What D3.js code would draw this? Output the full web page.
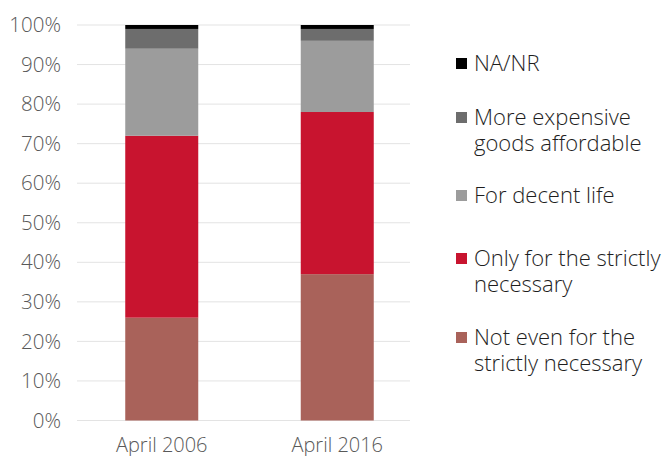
<!DOCTYPE html>
<html>
<head>
  <script src="https://d3js.org/d3.v7.min.js"></script>
  <style>
    body { margin: 0; background: #fff; }
    svg text { font-family: "Open Sans", Roboto, "Liberation Sans", sans-serif; font-weight: 300; }
  </style>
</head>
<body>
  <svg id="chart" width="668" height="456"></svg>
  <script>
    const categories = ['April 2006', 'April 2016'];
    // bottom to top
    const seriesNames = ['Not even for the strictly necessary', 'Only for the strictly necessary',
      'For decent life', 'More expensive goods affordable', 'NA/NR'];
    const notEven = [26, 37];
    const onlyNecessary = [46, 41];
    const decentLife = [22, 18];
    const moreExpensive = [5, 3];
    const naNr = [1, 1];
    const yTicks = [0, 10, 20, 30, 40, 50, 60, 70, 80, 90, 100];

    const colors = ['#a9625a', '#c8142f', '#9c9c9c', '#6d6d6d', '#000000'];
    const legendLines = [
      ['NA/NR'],
      ['More expensive', 'goods affordable'],
      ['For decent life'],
      ['Only for the strictly', 'necessary'],
      ['Not even for the', 'strictly necessary']
    ];

    const rows = categories.map((c, i) => ({
      cat: c,
      s0: notEven[i], s1: onlyNecessary[i], s2: decentLife[i], s3: moreExpensive[i], s4: naNr[i]
    }));
    const stack = d3.stack().keys(['s0', 's1', 's2', 's3', 's4'])(rows);

    const svg = d3.select('#chart');
    const y = d3.scaleLinear().domain([0, 100]).range([420.5, 25]);
    const x = d3.scaleBand().domain(categories).range([74, 425]);
    const barW = x.bandwidth() * 0.416;

    // gridlines
    svg.append('g').selectAll('line').data(yTicks).join('line')
      .attr('x1', 77).attr('x2', 410)
      .attr('y1', d => y(d)).attr('y2', d => y(d))
      .attr('stroke', '#e3e3e3').attr('stroke-width', 1);

    // y labels
    svg.append('g').selectAll('text').data(yTicks).join('text')
      .attr('x', 61).attr('y', d => y(d)).attr('dy', '0.35em')
      .attr('text-anchor', 'end').attr('font-size', 20.5).attr('fill', '#595959')
      .text(d => d + '%');

    // bars
    svg.append('g').selectAll('g').data(stack).join('g')
      .attr('fill', (d, i) => colors[i])
      .selectAll('rect').data(d => d).join('rect')
      .attr('x', d => x(d.data.cat) + x.bandwidth() / 2 - barW / 2)
      .attr('width', barW)
      .attr('y', d => y(d[1]))
      .attr('height', d => y(d[0]) - y(d[1]));

    // x labels (cut at the bottom edge, as in the original)
    svg.append('g').selectAll('text').data(categories).join('text')
      .attr('x', d => x(d) + x.bandwidth() / 2).attr('y', 452)
      .attr('text-anchor', 'middle').attr('font-size', 20).attr('fill', '#595959')
      .text(d => d);

    // legend, top to bottom
    const legendY = [63, 117, 195, 258, 337];
    const legendColors = colors.slice().reverse();
    const lg = svg.append('g').selectAll('g').data(legendLines).join('g')
      .attr('transform', (d, i) => `translate(456,${legendY[i]})`);
    lg.append('rect').attr('x', 0).attr('y', -5).attr('width', 11).attr('height', 11)
      .attr('fill', (d, i) => legendColors[i]);
    lg.each(function (lines) {
      const t = d3.select(this).append('text')
        .attr('x', 18).attr('y', 0)
        .attr('font-size', 22).attr('fill', '#1e1e1e');
      lines.forEach((l, j) => {
        t.append('tspan').attr('x', 18).attr('dy', j === 0 ? '0.35em' : 26).text(l);
      });
    });
  </script>
</body>
</html>
